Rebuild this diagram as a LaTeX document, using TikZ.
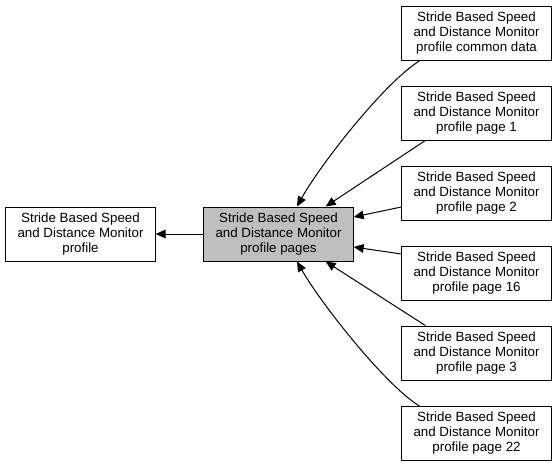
\documentclass[tikz,border=0pt]{standalone}
\usepackage{fontspec}
\setmainfont{Liberation Sans}
\usetikzlibrary{calc,arrows.meta}
\begin{document}
\begin{tikzpicture}[x=0.75pt,y=-0.75pt,
  box/.style={draw=black,line width=0.75pt,fill=white,align=center,inner sep=0pt,
    minimum width=112pt,minimum height=40.5pt,font=\fontsize{10pt}{11.25pt}\selectfont},
  edge/.style={line width=0.75pt,-{Triangle[length=7.5pt,width=6.5pt]}}]
\useasboundingbox (0,0) rectangle (559,467);
\node[box] (prof) at (80.5,234) {Stride Based Speed\\ and Distance Monitor\\profile};
\node[box,fill={rgb,255:red,191;green,191;blue,191}] (pages) at (278.5,234) {Stride Based Speed\\ and Distance Monitor\\profile pages};
\node[box] (cd) at (476.5,33.5) {Stride Based Speed\\ and Distance Monitor\\profile common data};
\node[box] (p1) at (476.5,113) {Stride Based Speed\\ and Distance Monitor\\profile page 1};
\node[box] (p2) at (476.5,193) {Stride Based Speed\\ and Distance Monitor\\profile page 2};
\node[box] (p16) at (476.5,273) {Stride Based Speed\\ and Distance Monitor\\profile page 16};
\node[box] (p3) at (476.5,353) {Stride Based Speed\\ and Distance Monitor\\profile page 3};
\node[box] (p22) at (476.5,433.5) {Stride Based Speed\\ and Distance Monitor\\profile page 22};
\draw[edge] (pages.west) -- (prof.east);
\draw[edge] ($(cd.south west)+(18,0)$) .. controls (384,83) and (320,165) .. ($(pages.north)+(18.5,0)$);
\draw[edge] ($(p1.south west)+(24,0)$) -- ($(pages.north east)+(-28,0)$);
\draw[edge] ($(p2.west)+(0,14)$) -- ($(pages.east)+(0,-17)$);
\draw[edge] ($(p16.west)+(0,-19)$) -- ($(pages.east)+(0,13)$);
\draw[edge] ($(p3.north west)+(24,0)$) -- ($(pages.south east)+(-28,0)$);
\draw[edge] ($(p22.north west)+(18,0)$) .. controls (384,384) and (320,302) .. ($(pages.south)+(18.5,0)$);
\end{tikzpicture}
\end{document}
